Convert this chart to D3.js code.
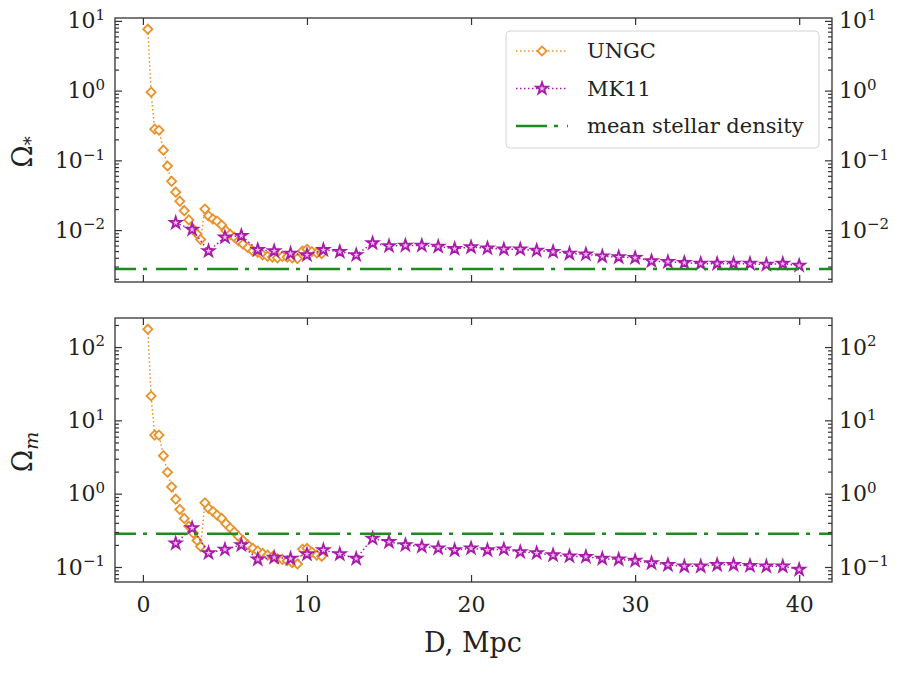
<!DOCTYPE html>
<html>

<head>
	<meta charset='utf-8'>
	<title>Omega vs D</title>
	<script type='text/javascript' src='https://cdn.jsdelivr.net/npm/d3@7/dist/d3.min.js'></script>
	<style>
		body { margin: 0; background: #fff; }
		text { font-family: 'DejaVu Serif', serif; fill: #222; }
	</style>
</head>

<body>
	<svg width='914' height='678'></svg>
	<script>
		// UNGC points (same D for both panels)
		const ungcD = [0.3, 0.5, 0.72, 0.98, 1.25, 1.5, 1.75, 2.0, 2.25, 2.52, 2.8, 3.07, 3.3, 3.52,
			3.78, 4.0, 4.27, 4.52, 4.8, 5.06, 5.32, 5.57, 5.83, 6.1, 6.4, 6.7, 7.0, 7.3, 7.6, 7.9, 8.2, 8.5, 8.8, 9.1, 9.42, 9.73, 10.0, 10.3, 10.6, 10.9]
		const ungcStar = [7.6, 0.95, 0.28, 0.27, 0.14, 0.083, 0.05, 0.035, 0.026, 0.019, 0.014, 0.0103, 0.0088, 0.0073,
			0.02, 0.016, 0.0144, 0.0135, 0.0118, 0.0098, 0.0087, 0.0079, 0.007, 0.0063, 0.0056, 0.005, 0.0048, 0.0044, 0.0042, 0.0041, 0.004, 0.0042, 0.0041, 0.004, 0.0039, 0.005, 0.0053, 0.0049, 0.0047, 0.0046]
		const ungcM = [175, 21.5, 6.3, 6.3, 3.3, 1.96, 1.24, 0.84, 0.61, 0.46, 0.36, 0.29, 0.23, 0.19,
			0.75, 0.63, 0.57, 0.51, 0.46, 0.39, 0.34, 0.30, 0.26, 0.23, 0.20, 0.18, 0.165, 0.153, 0.145, 0.138, 0.13, 0.127, 0.122, 0.115, 0.11, 0.175, 0.18, 0.16, 0.145, 0.14]

		// MK11 points
		const mk11D = d3.range(2, 41)
		const mk11Star = [0.0127, 0.0102, 0.005, 0.0079, 0.0083, 0.0052, 0.005, 0.0046, 0.0044, 0.0052, 0.0049, 0.0044,
			0.0065, 0.0059, 0.006, 0.006, 0.0058, 0.0054, 0.0057, 0.0055, 0.0053, 0.0053, 0.0051, 0.0049, 0.0046, 0.0045,
			0.0042, 0.0041, 0.004, 0.0036, 0.0035, 0.0034, 0.0033, 0.0033, 0.0033, 0.0033, 0.0032, 0.0033, 0.0031]
		const mk11M = [0.21, 0.34, 0.155, 0.173, 0.2, 0.127, 0.135, 0.13, 0.15, 0.17, 0.15, 0.13,
			0.245, 0.22, 0.2, 0.19, 0.18, 0.17, 0.18, 0.17, 0.175, 0.16, 0.155, 0.145, 0.14, 0.138,
			0.13, 0.127, 0.122, 0.113, 0.107, 0.102, 0.102, 0.107, 0.107, 0.104, 0.102, 0.102, 0.092]

		const meanStar = 0.00277
		const meanM = 0.284

		const xTicks = [0, 10, 20, 30, 40]
		const topMajor = [1e-2, 1e-1, 1e0, 1e1]
		const botMajor = [1e-1, 1e0, 1e1, 1e2]
		const legendLabels = ['UNGC', 'MK11', 'mean stellar density']

		const svg = d3.select('svg')
		const left = 115, right = 832
		const panels = [
			{ top: 18, bottom: 282, domain: [0.0018, 11], major: topMajor, ungc: ungcStar, mk: mk11Star, mean: meanStar, sub: '*', xLabels: false },
			{ top: 318, bottom: 582, domain: [0.0624, 249], major: botMajor, ungc: ungcM, mk: mk11M, mean: meanM, sub: 'm', xLabels: true }
		]

		const x = d3.scaleLinear().domain([-1.7, 42]).range([left, right])

		const orange = '#e8922f'
		const magenta = '#a81aa8'
		const green = '#1f8a1f'

		const diamond = d3.symbol(d3.symbolSquare, 42)()
		const star = d3.symbol(d3.symbolStar, 42)()

		function supLabels(g) {
			g.selectAll('.tick text').each(function (d) {
				const t = d3.select(this)
				const e = Math.round(Math.log10(d))
				t.text(null)
				t.append('tspan').text('10')
				t.append('tspan').attr('dy', '-0.55em').attr('font-size', '15px').text(e < 0 ? '\u2212' + (-e) : e)
			})
		}

		panels.forEach((p, i) => {
			const y = d3.scaleLog().domain(p.domain).range([p.bottom, p.top])
			const minor = y.ticks().filter(v => !p.major.some(m => Math.abs(m - v) / v < 1e-6))
			const g = svg.append('g')

			const clipId = 'clip' + i
			svg.append('clipPath').attr('id', clipId).append('rect')
				.attr('x', left).attr('y', p.top).attr('width', right - left).attr('height', p.bottom - p.top)

			const plot = g.append('g').attr('clip-path', `url(#${clipId})`)
			const line = d3.line().x(d => x(d[0])).y(d => y(d[1]))

			const ungc = ungcD.map((d, k) => [d, p.ungc[k]])
			const mk = mk11D.map((d, k) => [d, p.mk[k]])

			plot.append('path').datum(ungc).attr('d', line)
				.attr('fill', 'none').attr('stroke', orange).attr('stroke-width', 1.5).attr('stroke-dasharray', '1.5,2.5')
			plot.append('g').selectAll('path').data(ungc).join('path')
				.attr('d', diamond)
				.attr('transform', d => `translate(${x(d[0])},${y(d[1])}) rotate(45)`)
				.attr('fill', '#fffaf0').attr('stroke', orange).attr('stroke-width', 1.8)

			plot.append('path').datum(mk).attr('d', line)
				.attr('fill', 'none').attr('stroke', magenta).attr('stroke-width', 1.5).attr('stroke-dasharray', '1.5,2.5')
			plot.append('g').selectAll('path').data(mk).join('path')
				.attr('d', star)
				.attr('transform', d => `translate(${x(d[0])},${y(d[1])})`)
				.attr('fill', '#f3b6f3').attr('stroke', magenta).attr('stroke-width', 1.8)

			plot.append('line')
				.attr('x1', left).attr('x2', right).attr('y1', y(p.mean)).attr('y2', y(p.mean))
				.attr('stroke', green).attr('stroke-width', 2.5).attr('stroke-dasharray', '31,7,4,9').attr('stroke-dashoffset', 10)

			// y axes, ticks inward on both sides
			const yl = g.append('g').attr('transform', `translate(${left},0)`)
				.call(d3.axisLeft(y).tickValues(p.major).tickSizeInner(-7).tickSizeOuter(0).tickPadding(10))
			yl.call(supLabels)
			g.append('g').attr('transform', `translate(${left},0)`)
				.call(d3.axisLeft(y).tickValues(minor).tickFormat('').tickSizeInner(-4).tickSizeOuter(0))
			const yr = g.append('g').attr('transform', `translate(${right},0)`)
				.call(d3.axisRight(y).tickValues(p.major).tickSizeInner(-7).tickSizeOuter(0).tickPadding(7))
			yr.call(supLabels)
			g.append('g').attr('transform', `translate(${right},0)`)
				.call(d3.axisRight(y).tickValues(minor).tickFormat('').tickSizeInner(-4).tickSizeOuter(0))

			// x axes
			const xb = g.append('g').attr('transform', `translate(0,${p.bottom})`)
				.call(d3.axisBottom(x).tickValues(xTicks).tickSizeInner(-7).tickSizeOuter(0).tickPadding(14))
			if (!p.xLabels) xb.selectAll('text').remove()
			g.append('g').attr('transform', `translate(0,${p.top})`)
				.call(d3.axisTop(x).tickValues(xTicks).tickSizeInner(-7).tickSizeOuter(0).tickFormat(''))

			g.selectAll('.domain').remove()
			g.selectAll('.tick line').attr('stroke', '#333').attr('stroke-width', 1.2)
			g.selectAll('.tick text').attr('font-size', '22px').attr('fill', '#222')

			g.append('rect')
				.attr('x', left).attr('y', p.top).attr('width', right - left).attr('height', p.bottom - p.top)
				.attr('fill', 'none').attr('stroke', '#333').attr('stroke-width', 1.3)

			// y label
			const lab = g.append('text')
				.attr('transform', `translate(32,${(p.top + p.bottom) / 2 + 2}) rotate(-90)`)
				.attr('text-anchor', 'middle').attr('font-size', '27px')
			lab.append('tspan').text('\u03a9')
			if (p.sub === '*') {
				lab.append('tspan').attr('dy', '0.3em').attr('font-size', '18px').text('*')
			} else {
				lab.append('tspan').attr('dy', '0.3em').attr('font-size', '19px').attr('font-style', 'italic').text('m')
			}
		})

		svg.append('text')
			.attr('x', 473).attr('y', 652)
			.attr('text-anchor', 'middle').attr('font-size', '27px')
			.text('D, Mpc')

		// legend
		const lg = svg.append('g').attr('transform', 'translate(506,31)')
		lg.append('rect').attr('width', 313).attr('height', 117).attr('rx', 4)
			.attr('fill', '#fff').attr('fill-opacity', 0.85).attr('stroke', '#d4d4d4')
		const rows = lg.selectAll('g.row').data(legendLabels).join('g')
			.attr('class', 'row').attr('transform', (d, k) => `translate(0,${20 + k * 37.5})`)
		rows.append('text').attr('x', 81).attr('y', 7).attr('font-size', '21px').text(d => d)
		rows.filter((d, k) => k < 2).append('line')
			.attr('x1', 10).attr('x2', 62).attr('y1', 0).attr('y2', 0)
			.attr('stroke', (d, k) => k === 0 ? orange : magenta).attr('stroke-width', 1.5).attr('stroke-dasharray', '1.5,2.5')
		rows.filter((d, k) => k === 0).append('path').attr('d', diamond)
			.attr('transform', 'translate(36,0) rotate(45)')
			.attr('fill', '#fffaf0').attr('stroke', orange).attr('stroke-width', 1.8)
		rows.filter((d, k) => k === 1).append('path').attr('d', star)
			.attr('transform', 'translate(36,0)')
			.attr('fill', '#f3b6f3').attr('stroke', magenta).attr('stroke-width', 1.8)
		rows.filter((d, k) => k === 2).append('line')
			.attr('x1', 10).attr('x2', 62).attr('y1', 0).attr('y2', 0)
			.attr('stroke', green).attr('stroke-width', 2.5).attr('stroke-dasharray', '31,7,4,9')
	</script>
</body>

</html>
